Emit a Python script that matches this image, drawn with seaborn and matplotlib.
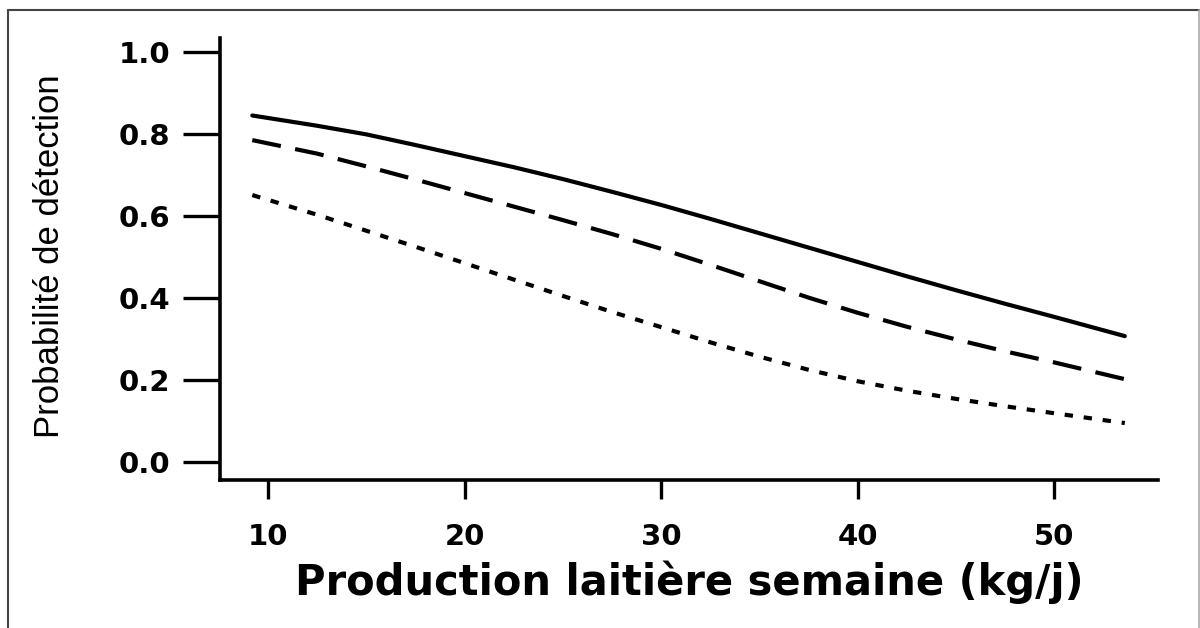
import matplotlib
matplotlib.use("Agg")
import matplotlib.pyplot as plt
from matplotlib.lines import Line2D
import seaborn as sns
import pandas as pd

# ---- data ----
production = [9.2, 12.5, 15, 17.5, 20, 22.5, 25, 27.5, 30, 32.5, 35, 37.5, 40, 42.5, 45, 47.5, 50, 53.6]
courbe_pleine = [0.845, 0.820, 0.799, 0.773, 0.746, 0.719, 0.690, 0.659, 0.627, 0.593,
                 0.558, 0.523, 0.488, 0.453, 0.419, 0.386, 0.354, 0.307]
courbe_tirets = [0.785, 0.752, 0.721, 0.689, 0.656, 0.623, 0.590, 0.556, 0.520, 0.481,
                 0.441, 0.401, 0.364, 0.330, 0.299, 0.270, 0.243, 0.202]
courbe_points = [0.651, 0.603, 0.564, 0.525, 0.485, 0.445, 0.405, 0.366, 0.329, 0.292,
                 0.257, 0.225, 0.197, 0.174, 0.154, 0.136, 0.119, 0.095]
x_ticks = [10, 20, 30, 40, 50]
y_ticks = [0.0, 0.2, 0.4, 0.6, 0.8, 1.0]
x_label = "Production laitière semaine (kg/j)"
y_label = "Probabilité de détection"

sns.set_theme(style="white")
plt.rcParams["font.family"] = ["DejaVu Sans"]

n = len(production)
df = pd.DataFrame({
    "production": production * 3,
    "prob": courbe_pleine + courbe_tirets + courbe_points,
    "serie": ["pleine"] * n + ["tirets"] * n + ["points"] * n,
})

W, H = 1200, 628
fig = plt.figure(figsize=(12, 6.28), dpi=100)
ax = fig.add_axes([220 / W, 1 - 480 / H, (1158 - 220) / W, (480 - 38) / H])

styles = {"pleine": "-", "tirets": (0, (7, 3.5)), "points": (0, (2, 2.6))}
for serie, ls in styles.items():
    sub = df[df["serie"] == serie]
    sns.lineplot(data=sub, x="production", y="prob", ax=ax, color="black",
                 linewidth=3, linestyle=ls, legend=False)

ax.set_xlim(7.557, 55.29)
ax.set_ylim(-0.0439, 1.034)
ax.set_xticks(x_ticks)
ax.set_yticks(y_ticks)
ax.set_xticklabels([str(v) for v in x_ticks])
ax.set_yticklabels([f"{v:.1f}" for v in y_ticks])

for side in ["top", "right"]:
    ax.spines[side].set_visible(False)
for side in ["left", "bottom"]:
    ax.spines[side].set_linewidth(2.6)
    ax.spines[side].set_color("black")

ax.tick_params(axis="y", direction="out", length=26.6, width=2.4, pad=9,
               labelsize=21, colors="black", left=True)
ax.tick_params(axis="x", direction="out", length=13.7, width=2.4, pad=17,
               labelsize=21, colors="black", bottom=True)
for lab in ax.get_xticklabels() + ax.get_yticklabels():
    lab.set_fontweight("bold")

ax.set_xlabel(x_label, fontsize=30, fontweight="bold", color="black", labelpad=7)
ax.set_ylabel("")
ylab = fig.text(50 / W, 1 - 256 / H, y_label, rotation=90, ha="center", va="center",
                fontsize=26, color="black",
                family=["Liberation Sans Narrow", "Liberation Sans", "DejaVu Sans"])

# fit the y label length to the reference (about 360 px)
fig.canvas.draw()
ext = ylab.get_window_extent()
ylab.set_fontsize(26 * 362 / ext.height)

# figure frame (left, top, right)
fig.add_artist(Line2D([7.5 / W, 7.5 / W], [0, 1 - 9.5 / H], transform=fig.transFigure,
                      color="#444444", lw=1.5))
fig.add_artist(Line2D([7.5 / W, 1199 / W], [1 - 9.5 / H, 1 - 9.5 / H],
                      transform=fig.transFigure, color="#444444", lw=1.5))
fig.add_artist(Line2D([1199 / W, 1199 / W], [0, 1 - 9.5 / H], transform=fig.transFigure,
                      color="#aaaaaa", lw=1.2))

fig.savefig("out.png", dpi=100)
